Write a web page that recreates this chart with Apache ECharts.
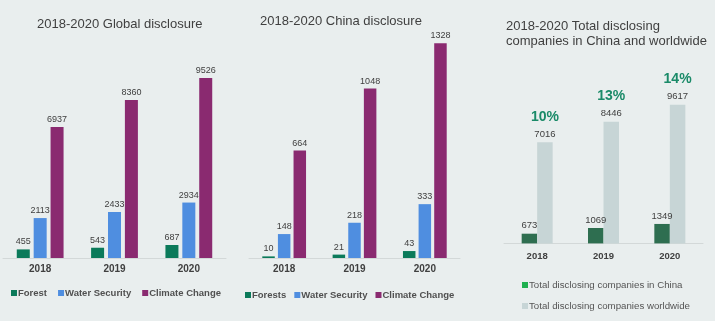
<!DOCTYPE html>
<html><head><meta charset="utf-8">
<script src="https://cdn.jsdelivr.net/npm/echarts@6/dist/echarts.min.js"></script>
<style>html,body{margin:0;padding:0;background:#e9eeee}#c{width:715px;height:321px}</style>
</head><body><div id="c"></div>
<script>
const years = ['2018', '2019', '2020'];
const globalForest = [455, 543, 687];
const globalWater = [2113, 2433, 2934];
const globalClimate = [6937, 8360, 9526];
const chinaForest = [10, 21, 43];
const chinaWater = [148, 218, 333];
const chinaClimate = [664, 1048, 1328];
const totalChina = [673, 1069, 1349];
const totalWorld = [7016, 8446, 9617];
const shareLabels = ['10%', '13%', '14%'];

const FONT = '"Liberation Sans", Arial, sans-serif';
const C_FOREST = '#0b7a5a', C_WATER = '#4f8ee0', C_CLIMATE = '#8a2a70';
const C_CN = '#2e6e50', C_WW = '#c7d5d6';

function valLabel(fs) {
  return {show: true, position: 'top', distance: 3, fontSize: fs, color: '#404040', fontFamily: FONT};
}
function xAx(i, margin, fs) {
  return {gridIndex: i, type: 'category', data: years,
    axisLine: {lineStyle: {color: '#d3d8d8', width: 1}}, axisTick: {show: false},
    axisLabel: {fontWeight: 'bold', fontSize: fs, color: '#404040', fontFamily: FONT, margin: margin}};
}
function yAx(i, max) {
  return {gridIndex: i, type: 'value', min: 0, max: max, show: false, splitLine: {show: false}};
}
function bar(name, data, color, i, w, gap, label) {
  return {type: 'bar', name: name, data: data, xAxisIndex: i, yAxisIndex: i, barWidth: w, barGap: gap,
    itemStyle: {color: color}, label: label, silent: true};
}
const legText = {fontSize: 9.5, fontWeight: 'bold', color: '#505050', fontFamily: FONT, padding: [0, 0, 0, -4]};

const chart = echarts.init(document.getElementById('c'), null, {renderer: 'canvas'});
chart.setOption({
  backgroundColor: '#e9eeee',
  animation: false,
  title: [
    {text: '2018-2020 Global disclosure', left: 32, top: 13, textStyle: {fontSize: 13, fontWeight: 'normal', color: '#404040', fontFamily: FONT}},
    {text: '2018-2020 China disclosure', left: 255, top: 10, textStyle: {fontSize: 13, fontWeight: 'normal', color: '#404040', fontFamily: FONT}},
    {text: '2018-2020 Total disclosing\ncompanies in China and worldwide', left: 501, top: 14, textStyle: {fontSize: 13, fontWeight: 'normal', color: '#404040', fontFamily: FONT, lineHeight: 15}}
  ],
  legend: [
    {data: ['Forest', 'Water Security', 'Climate Change'], left: 6, top: 283, itemWidth: 6, itemHeight: 6, itemGap: 11,
      icon: 'rect', textStyle: legText},
    {data: ['Forests', 'Water Security', 'Climate Change'], left: 240, top: 285, itemWidth: 6, itemHeight: 6, itemGap: 8,
      icon: 'rect', textStyle: legText},
    {data: [{name: 'Total disclosing companies in China', itemStyle: {color: '#1fb050'}}, {name: 'Total disclosing companies worldwide'}],
      orient: 'vertical', left: 517, top: 275, itemWidth: 6, itemHeight: 6, itemGap: 11,
      icon: 'rect', textStyle: {fontSize: 9.7, color: '#555555', fontFamily: FONT, padding: [0, 0, 0, -4]}}
  ],
  grid: [
    {left: 3, width: 223, top: 69, height: 189},
    {left: 249, width: 211, top: 31.6, height: 226.4},
    {left: 504, width: 199, top: 70.4, height: 173}
  ],
  xAxis: [xAx(0, 6, 10), xAx(1, 6, 10), xAx(2, 8, 9.5)],
  yAxis: [yAx(0, 10000), yAx(1, 1400), yAx(2, 12000)],
  series: [
    bar('Forest', globalForest, C_FOREST, 0, 13, '30%', valLabel(9)),
    bar('Water Security', globalWater, C_WATER, 0, 13, '30%', valLabel(9)),
    bar('Climate Change', globalClimate, C_CLIMATE, 0, 13, '30%', valLabel(9)),
    bar('Forests', chinaForest, C_FOREST, 1, 12.5, '25%', valLabel(9)),
    bar('Water Security', chinaWater, C_WATER, 1, 12.5, '25%', valLabel(9)),
    bar('Climate Change', chinaClimate, C_CLIMATE, 1, 12.5, '25%', valLabel(9)),
    bar('Total disclosing companies in China', totalChina, C_CN, 2, 15.5, '0%', valLabel(9.5)),
    bar('Total disclosing companies worldwide', totalWorld, C_WW, 2, 15.5, '0%', {
      show: true, position: 'top', distance: 2, fontFamily: FONT,
      formatter: function (p) { return '{p|' + shareLabels[p.dataIndex] + '}\n{v|' + p.value + '}'; },
      rich: {
        p: {fontSize: 14, fontWeight: 'bold', color: '#1a8a68', fontFamily: FONT, lineHeight: 20, padding: [0, 0, 3, 0]},
        v: {fontSize: 9.5, color: '#404040', fontFamily: FONT, lineHeight: 12}
      }
    })
  ]
});
</script></body></html>
